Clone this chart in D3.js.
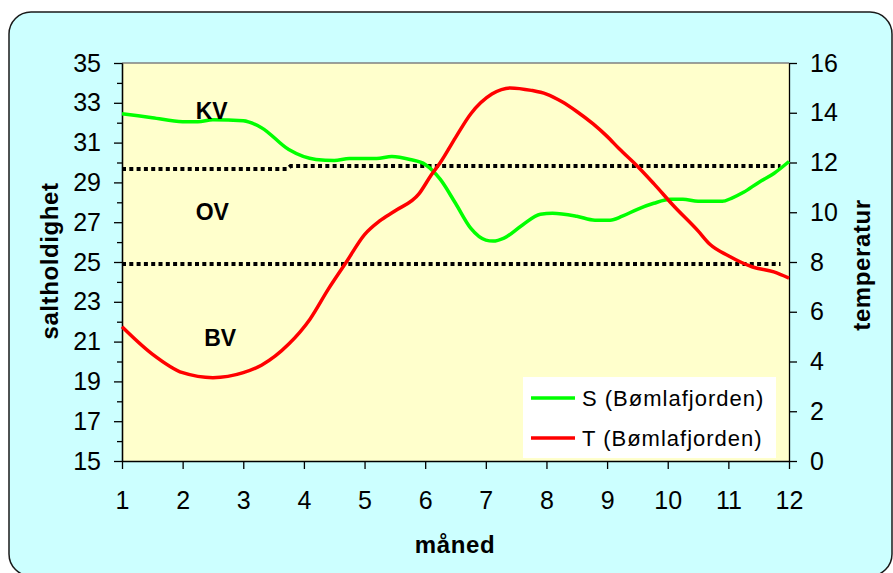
<!DOCTYPE html>
<html lang="no">
<head>
    <meta charset="UTF-8">
    <title>Saltholdighet og temperatur - Bømlafjorden</title>
    <script src="https://d3js.org/d3.v7.min.js"></script>
    <style>
        body {
            margin: 0;
            background-color: white;
            font-family: "Liberation Sans", Arial, sans-serif;
        }
        .axis text {
            font-family: "Liberation Sans", Arial, sans-serif;
            font-size: 25px;
            fill: #000;
        }
        .axis line, .axis path {
            stroke: #000;
            stroke-width: 1.3;
        }
        .axis-title {
            font-weight: bold;
            font-size: 24px;
            letter-spacing: 0.6px;
        }
        .zone-label {
            font-weight: bold;
            font-size: 23px;
            text-anchor: middle;
        }
        .legend-text {
            font-size: 22px;
            letter-spacing: 1px;
        }
    </style>
</head>
<body>
    <div id="chart"></div>

    <script>
        // Salinity (S) readings, month on x
        const sMonths = [1, 1.5, 2, 2.25, 2.5, 3, 3.3, 3.75, 4.2, 4.5, 4.75, 5.2, 5.45, 5.75, 6, 6.25, 6.5, 6.75, 7, 7.12, 7.3, 7.6, 7.9, 8.1, 8.5, 8.8, 9.05, 9.25, 9.5, 9.77, 10.05, 10.25, 10.5, 10.9, 11.05, 11.25, 11.5, 11.75, 12];
        const salinity = [32.45, 32.25, 32.05, 32.05, 32.15, 32.1, 31.75, 30.65, 30.15, 30.1, 30.2, 30.2, 30.3, 30.15, 29.9, 29.15, 27.95, 26.7, 26.1, 26.05, 26.2, 26.85, 27.4, 27.45, 27.3, 27.1, 27.1, 27.3, 27.65, 27.95, 28.15, 28.15, 28.05, 28.05, 28.2, 28.5, 29.0, 29.45, 30.05];

        // Temperature (T) readings
        const tMonths = [1, 1.5, 2, 2.5, 3, 3.3, 3.75, 4.1, 4.4, 4.7, 5, 5.25, 5.5, 5.9, 6.1, 6.25, 6.5, 6.75, 7.1, 7.4, 7.75, 8, 8.25, 8.5, 8.77, 9, 9.2, 9.5, 9.77, 10.1, 10.5, 10.7, 11, 11.2, 11.4, 11.75, 12];
        const temperature = [5.4, 4.3, 3.55, 3.35, 3.55, 3.85, 4.7, 5.7, 6.9, 8.0, 9.1, 9.65, 10.05, 10.75, 11.5, 12.0, 13.0, 13.95, 14.75, 15.0, 14.9, 14.75, 14.45, 14.05, 13.55, 13.05, 12.55, 11.85, 11.15, 10.25, 9.25, 8.7, 8.25, 8.0, 7.8, 7.6, 7.35];

        // Water layer boundaries (salinity units)
        const upperBoundMonths = [1, 3.72, 3.78, 11.86];
        const upperBound = [29.67, 29.67, 29.82, 29.82];
        const lowerBoundMonths = [1, 11.86];
        const lowerBound = [24.9, 24.9];

        // Layer labels
        const zoneNames = ["KV", "OV", "BV"];
        const zoneMonths = [2.48, 2.49, 2.62];
        const zoneSalinity = [32.19, 27.11, 20.78];

        // Axes
        const monthTicks = d3.range(1, 13);
        const salinityMajor = d3.range(15, 36, 2);
        const salinityMinor = d3.range(16, 35, 2);
        const tempTicks = d3.range(0, 17, 2);

        const legendNames = ["S (Bømlafjorden)", "T (Bømlafjorden)"];
        const seriesColors = ["#00ff00", "#ff0000"];

        const width = 893, height = 573;
        const plot = { left: 122, right: 789, top: 63, bottom: 461 };

        const svg = d3.select("#chart")
            .append("svg")
            .attr("width", width)
            .attr("height", height);

        // Outer rounded frame
        svg.append("rect")
            .attr("x", 9)
            .attr("y", 12)
            .attr("width", 883)
            .attr("height", 564)
            .attr("rx", 22)
            .attr("fill", "#ccffff")
            .attr("stroke", "#1a1a1a")
            .attr("stroke-width", 1.5);

        const x = d3.scaleLinear().domain([1, 12]).range([plot.left, plot.right]);
        const yS = d3.scaleLinear().domain([15, 35]).range([plot.bottom, plot.top]);
        const yT = d3.scaleLinear().domain([0, 16]).range([plot.bottom, plot.top]);

        // Plot area
        svg.append("rect")
            .attr("x", plot.left)
            .attr("y", plot.top)
            .attr("width", plot.right - plot.left)
            .attr("height", plot.bottom - plot.top)
            .attr("fill", "#ffffcc");

        svg.append("line")
            .attr("x1", plot.left).attr("x2", plot.right)
            .attr("y1", plot.top).attr("y2", plot.top)
            .attr("stroke", "#808080")
            .attr("stroke-width", 1.5);

        // Left axis: minor ticks then labelled major ticks
        svg.append("g")
            .attr("class", "axis")
            .attr("transform", `translate(${plot.left},0)`)
            .call(d3.axisLeft(yS).tickValues(salinityMinor).tickSize(5).tickSizeOuter(0).tickFormat(""));

        svg.append("g")
            .attr("class", "axis")
            .attr("transform", `translate(${plot.left},0)`)
            .call(d3.axisLeft(yS).tickValues(salinityMajor).tickSize(8).tickSizeOuter(0).tickPadding(13));

        // Right axis
        svg.append("g")
            .attr("class", "axis")
            .attr("transform", `translate(${plot.right},0)`)
            .call(d3.axisRight(yT).tickValues(tempTicks).tickSize(8).tickSizeOuter(0).tickPadding(13));

        // Bottom axis
        svg.append("g")
            .attr("class", "axis")
            .attr("transform", `translate(0,${plot.bottom})`)
            .call(d3.axisBottom(x).tickValues(monthTicks).tickSize(8).tickSizeOuter(0).tickPadding(22));

        // Axis titles
        svg.append("text")
            .attr("class", "axis-title")
            .attr("transform", "translate(58,261) rotate(-90)")
            .attr("text-anchor", "middle")
            .text("saltholdighet");

        svg.append("text")
            .attr("class", "axis-title")
            .attr("transform", "translate(870,265) rotate(-90)")
            .attr("text-anchor", "middle")
            .text("temperatur");

        svg.append("text")
            .attr("class", "axis-title")
            .attr("x", 455)
            .attr("y", 553)
            .attr("text-anchor", "middle")
            .text("måned");

        // Dotted boundaries
        const boundLine = d3.line()
            .x(d => x(d[0]))
            .y(d => yS(d[1]));

        [[upperBoundMonths, upperBound], [lowerBoundMonths, lowerBound]].forEach(([ms, vs]) => {
            svg.append("path")
                .attr("d", boundLine(ms.map((m, i) => [m, vs[i]])))
                .attr("fill", "none")
                .attr("stroke", "#000")
                .attr("stroke-width", 4)
                .attr("stroke-dasharray", "4,3.3");
        });

        // Series
        const sLine = d3.line()
            .x(d => x(d[0]))
            .y(d => yS(d[1]))
            .curve(d3.curveMonotoneX);

        const tLine = d3.line()
            .x(d => x(d[0]))
            .y(d => yT(d[1]))
            .curve(d3.curveMonotoneX);

        svg.append("path")
            .attr("d", sLine(sMonths.map((m, i) => [m, salinity[i]])))
            .attr("fill", "none")
            .attr("stroke", seriesColors[0])
            .attr("stroke-width", 3.5);

        svg.append("path")
            .attr("d", tLine(tMonths.map((m, i) => [m, temperature[i]])))
            .attr("fill", "none")
            .attr("stroke", seriesColors[1])
            .attr("stroke-width", 3.5);

        // Layer labels
        svg.selectAll(".zone-label")
            .data(zoneNames)
            .enter()
            .append("text")
            .attr("class", "zone-label")
            .attr("x", (d, i) => x(zoneMonths[i]))
            .attr("y", (d, i) => yS(zoneSalinity[i]))
            .text(d => d);

        // Legend
        const legend = svg.append("g").attr("transform", "translate(523,377)");
        legend.append("rect")
            .attr("width", 253)
            .attr("height", 81)
            .attr("fill", "white");

        legendNames.forEach((name, i) => {
            const ly = 21 + i * 40;
            legend.append("line")
                .attr("x1", 8).attr("x2", 52)
                .attr("y1", ly).attr("y2", ly)
                .attr("stroke", seriesColors[i])
                .attr("stroke-width", 3.5);
            legend.append("text")
                .attr("class", "legend-text")
                .attr("x", 59)
                .attr("y", ly + 8)
                .text(name);
        });
    </script>
</body>
</html>
